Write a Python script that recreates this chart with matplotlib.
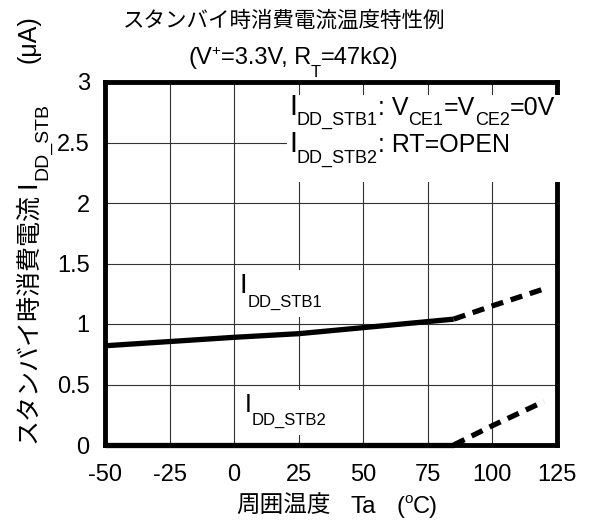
import matplotlib
matplotlib.use("Agg")
import matplotlib.pyplot as plt
from matplotlib.patches import Rectangle

plt.rcParams['font.family'] = ['Liberation Sans', 'Noto Sans CJK JP']

# ------------------------
# Data
# ------------------------
ta_solid = [-50, 0, 25, 50, 85]
stb1_solid = [0.82, 0.89, 0.92, 0.97, 1.04]
stb2_solid = [0.0, 0.0, 0.0, 0.0, 0.0]

ta_dash = [85, 100, 120]
stb1_dash = [1.04, 1.15, 1.29]
stb2_dash = [0.0, 0.16, 0.36]

xticks = [-50, -25, 0, 25, 50, 75, 100, 125]
yticks = [0, 0.5, 1, 1.5, 2, 2.5, 3]
ytick_labels = ["0", "0.5", "1", "1.5", "2", "2.5", "3"]

W, H = 592, 525
fig = plt.figure(figsize=(W / 100, H / 100), dpi=100)
ax = fig.add_axes([105 / W, 1 - 445 / H, (557 - 105) / W, (445 - 82) / H])

# ------------------------
# Lines
# ------------------------
ax.plot(ta_solid, stb1_solid, color='black', lw=3.8, clip_on=False,
        solid_capstyle='butt', zorder=3)
ax.plot(ta_dash, stb1_dash, color='black', lw=3.8, ls=(0, (2.3, 1.5)),
        clip_on=False, zorder=3)
ax.plot(ta_solid, stb2_solid, color='black', lw=3.8, clip_on=False,
        solid_capstyle='butt', zorder=3)
ax.plot(ta_dash, stb2_dash, color='black', lw=3.8, ls=(0, (2.3, 1.5)),
        clip_on=False, zorder=3)

ax.set_xlim(-50, 125)
ax.set_ylim(0, 3)
ax.set_xticks(xticks)
ax.set_xticklabels([str(v) for v in xticks])
ax.set_yticks(yticks)
ax.set_yticklabels(ytick_labels)
ax.tick_params(axis='both', length=0, labelsize=17)
ax.tick_params(axis='x', pad=14)
ax.tick_params(axis='y', pad=11)
ax.grid(True, color='#333333', lw=0.8)
for sp in ax.spines.values():
    sp.set_linewidth(3.5)


# ------------------------
# Text helpers (pixel coordinates, origin top-left)
# ------------------------
def white_box(x0, y0, x1, y1):
    fig.add_artist(Rectangle((x0 / W, 1 - y1 / H), (x1 - x0) / W, (y1 - y0) / H,
                             transform=fig.transFigure, facecolor='white',
                             edgecolor='none', zorder=2))


def rich(x, y, parts, rot=0):
    r = fig.canvas.get_renderer()
    for s, size, drop in parts:
        if s is None:
            if rot == 0:
                x += size
            else:
                y -= size
            continue
        if rot == 0:
            px, py = x, y + drop
        else:
            px, py = x + drop, y
        t = fig.text(px / W, 1 - py / H, s, fontsize=size, rotation=rot,
                     rotation_mode='anchor', ha='left', va='baseline', zorder=3)
        bb = t.get_window_extent(r)
        if rot == 0:
            x += bb.width
        else:
            y -= bb.height


# white backgrounds behind the labels
white_box(238, 270, 328, 317)
white_box(242, 390, 334, 435)
white_box(287, 95, 564, 182)

# title
fig.text(284 / W, 1 - 21 / H, "スタンバイ時消費電流温度特性例", fontsize=15.5,
         ha='center', va='center')
rich(188, 64, [("(V", 17, 0), ("+", 11, -9), ("=3.3V, R", 17, 0),
               ("T", 12, 13), ("=47kΩ)", 17, 0)])

# legend text
rich(289, 115, [("I", 21, 0), ("DD_STB1", 13, 10), (": V", 18, 0),
                ("CE1", 13, 10), ("=V", 18, 0), ("CE2", 13, 10), ("=0V", 18, 0)])
rich(289, 152, [("I", 21, 0), ("DD_STB2", 13, 11), (": RT=OPEN", 18, 0)])

# curve labels
rich(240, 293, [("I", 20, 0), ("DD_STB1", 12, 14)])
rich(245, 412, [("I", 18, 0), ("DD_STB2", 12, 13)])

# x label
rich(236, 513, [("周囲温度", 17, 0), (None, 20, 0), ("Ta", 17.5, 0), (None, 20, 0),
                ("(", 17, 0), ("o", 11, -10), ("C)", 17, 0)])

# y label
rich(35, 443, [("スタンバイ時消費電流", 18, 0), (None, 5, 0), ("I", 20, 0),
               ("DD_STB", 14, 12), (None, 40, 0), ("(μA)", 18, 0)], rot=90)

fig.savefig("out.png", dpi=100)
